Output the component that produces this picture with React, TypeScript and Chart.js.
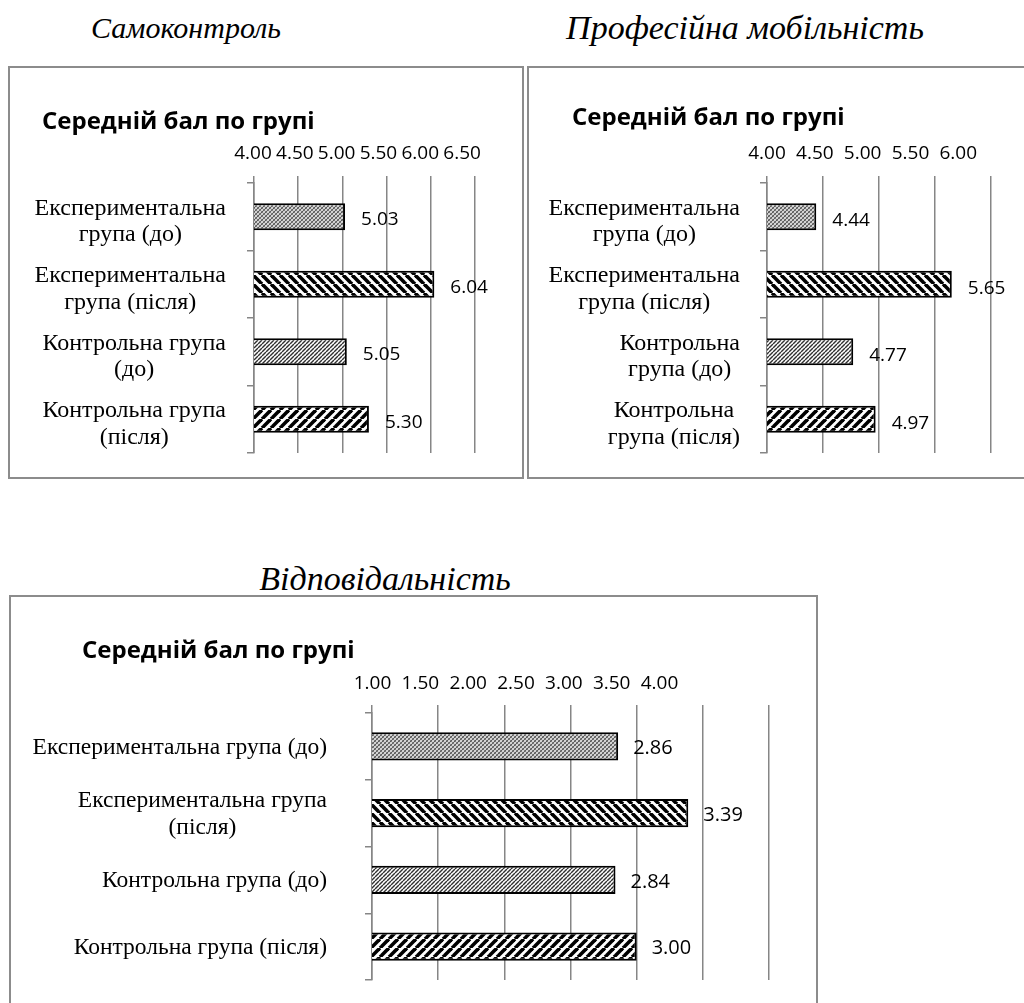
import React, { useEffect, useRef } from 'react';
import { Chart, registerables } from 'chart.js';

Chart.register(...registerables);

// ---------------- data ----------------
const chartTitle = 'Середній бал по групі';
const groupCategories = [
  'Експериментальна група (до)',
  'Експериментальна група (після)',
  'Контрольна група (до)',
  'Контрольна група (після)',
];

const selfControlHeading = 'Самоконтроль';
const selfControlLabels = [
  ['Експериментальна', 'група (до)'],
  ['Експериментальна', 'група (після)'],
  ['Контрольна група', '(до)'],
  ['Контрольна група', '(після)'],
];
const selfControlValues = [5.03, 6.04, 5.05, 5.3];
const selfControlTicks = [4.0, 4.5, 5.0, 5.5, 6.0, 6.5];

const mobilityHeading = 'Професійна мобільність';
const mobilityLabels = [
  ['Експериментальна', 'група (до)'],
  ['Експериментальна', 'група (після)'],
  ['Контрольна', 'група (до)'],
  ['Контрольна', 'група (після)'],
];
const mobilityValues = [4.44, 5.65, 4.77, 4.97];
const mobilityTicks = [4.0, 4.5, 5.0, 5.5, 6.0];

const responsibilityHeading = 'Відповідальність';
const responsibilityLabels = [
  ['Експериментальна група (до)'],
  ['Експериментальна група', '(після)'],
  ['Контрольна група (до)'],
  ['Контрольна група (після)'],
];
const responsibilityValues = [2.86, 3.39, 2.84, 3.0];
const responsibilityTicks = [1.0, 1.5, 2.0, 2.5, 3.0, 3.5, 4.0];

// ---------------- layout (page coordinates) ----------------
type PanelLayout = {
  box: { left: number; top: number; width: number; height: number };
  canvas: { left: number; top: number; width: number; height: number };
  heading: { centerX: number; top: number; size: number };
  titleLeft: number;
  titleCenterY: number;
  titleSize: number;
  plotLeft: number;
  plotRight: number;
  plotTop: number;
  plotBottom: number;
  gridTick: number;
  tickCenterY: number;
  tickSize: number;
  labelRatio: number;
  labelOffset: number;
  catSize: number;
  catLineHeight: number;
  catGap: number;
  catDy: number;
  barPct: number;
  valueGap: number;
  valueSize: number;
  valueDy: number;
};

const selfControlLayout: PanelLayout = {
  box: { left: 8, top: 66, width: 516, height: 413 },
  canvas: { left: 10, top: 68, width: 512, height: 409 },
  heading: { centerX: 186, top: 13, size: 30 },
  titleLeft: 42,
  titleCenterY: 122.5,
  titleSize: 24,
  plotLeft: 254,
  plotRight: 475,
  plotTop: 183,
  plotBottom: 453,
  gridTick: 7,
  tickCenterY: 154,
  tickSize: 19,
  labelRatio: 0.946,
  labelOffset: -1,
  catSize: 24,
  catLineHeight: 1.12,
  catGap: 28,
  catDy: 5,
  barPct: 0.4,
  valueGap: 16,
  valueSize: 19,
  valueDy: 3,
};

const mobilityLayout: PanelLayout = {
  box: { left: 527, top: 66, width: 520, height: 413 },
  canvas: { left: 529, top: 68, width: 495, height: 409 },
  heading: { centerX: 745, top: 11, size: 34 },
  titleLeft: 572,
  titleCenterY: 118.5,
  titleSize: 24,
  plotLeft: 767,
  plotRight: 991,
  plotTop: 183,
  plotBottom: 453,
  gridTick: 7,
  tickCenterY: 154,
  tickSize: 19,
  labelRatio: 0.854,
  labelOffset: 0,
  catSize: 24,
  catLineHeight: 1.12,
  catGap: 27,
  catDy: 5,
  barPct: 0.4,
  valueGap: 16,
  valueSize: 19,
  valueDy: 4,
};

const responsibilityLayout: PanelLayout = {
  box: { left: 9, top: 595, width: 809, height: 430 },
  canvas: { left: 11, top: 597, width: 805, height: 406 },
  heading: { centerX: 385, top: 562, size: 34 },
  titleLeft: 82,
  titleCenterY: 651.5,
  titleSize: 24,
  plotLeft: 372,
  plotRight: 769,
  plotTop: 713,
  plotBottom: 980,
  gridTick: 8,
  tickCenterY: 684,
  tickSize: 19,
  labelRatio: 0.723,
  labelOffset: 0.5,
  catSize: 23.5,
  catLineHeight: 1.15,
  catGap: 45,
  catDy: 1,
  barPct: 0.42,
  valueGap: 15,
  valueSize: 20,
  valueDy: 2,
};

const GRID_COLOR = '#868686';

// ---------------- patterns ----------------
function makePattern(kind: number): CanvasPattern | string {
  const c = document.createElement('canvas');
  const s = kind === 1 || kind === 3 ? 9 : 4;
  c.width = s;
  c.height = s;
  const g = c.getContext('2d');
  if (!g) return '#999';
  g.fillStyle = '#ffffff';
  g.fillRect(0, 0, s, s);
  const diag = (up: boolean) => {
    for (let k = -1; k <= 1; k++) {
      g.beginPath();
      if (up) {
        g.moveTo(k * s, s);
        g.lineTo(k * s + s, 0);
      } else {
        g.moveTo(k * s, 0);
        g.lineTo(k * s + s, s);
      }
      g.stroke();
    }
  };
  if (kind === 0) {
    g.strokeStyle = '#4c4c4c';
    g.lineWidth = 1.1;
    diag(true);
    g.strokeStyle = '#7a7a7a';
    diag(false);
  } else if (kind === 1) {
    g.strokeStyle = '#000';
    g.lineWidth = 3.6;
    diag(false);
  } else if (kind === 2) {
    g.strokeStyle = '#303030';
    g.lineWidth = 1.4;
    diag(true);
  } else {
    g.strokeStyle = '#000';
    g.lineWidth = 3.6;
    diag(true);
  }
  const p = g.createPattern(c, 'repeat');
  return p || '#999';
}

// ---------------- plugins ----------------
const valueLabelPlugin = {
  id: 'valueLabels',
  afterDatasetsDraw(chart: any, _args: any, opts: any) {
    const { ctx } = chart;
    const meta = chart.getDatasetMeta(0);
    const data = chart.data.datasets[0].data as number[];
    ctx.save();
    ctx.font = `${opts.size}px "Open Sans"`;
    ctx.fillStyle = '#000';
    ctx.textAlign = 'left';
    ctx.textBaseline = 'middle';
    meta.data.forEach((el: any, i: number) => {
      ctx.fillText(Number(data[i]).toFixed(2), el.x + opts.gap, el.y + opts.dy);
    });
    ctx.restore();
  },
};

// each category label lives on its own zero-width category axis; after layout the
// axis is widened to the left of the plot so its label block can be right-aligned
const labelAxesPlugin = {
  id: 'labelAxes',
  afterLayout(chart: any, _args: any, opts: any) {
    const area = chart.chartArea;
    Object.keys(chart.scales).forEach((id) => {
      if (id.startsWith('yl')) {
        const s = chart.scales[id];
        s.left = 0;
        s.right = area.left - opts.gap;
        s.width = s.right - s.left;
        s.top = area.top + opts.dy;
        s.bottom = area.bottom + opts.dy;
        s.configure();
      }
    });
  },
};

function buildConfig(labels: string[][], values: number[], ticks: number[], L: PanelLayout): any {
  const cx = L.canvas.left;
  const cy = L.canvas.top;
  const gridMin = ticks[0];
  const gridMax = ticks[ticks.length - 1];
  const plotW = L.plotRight - L.plotLeft;
  const gridPx = plotW / (gridMax - gridMin);
  const labelMin = gridMin - L.labelOffset / (gridPx * L.labelRatio);
  const labelMax = labelMin + (gridMax - gridMin) / L.labelRatio;
  const titleLH = L.titleSize * 1.2;
  const titlePadTop = L.titleCenterY - cy - titleLH / 2;
  const titleBottom = titlePadTop + titleLH;
  const gridAxisTop = L.plotTop - L.gridTick - cy;
  const labelAxisHeight = gridAxisTop - titleBottom;
  const tickLH = L.tickSize * 1.2;
  const tickPad = L.plotTop - L.gridTick - L.tickCenterY - tickLH / 2;
  const setTicks = (scale: any) => {
    scale.ticks = ticks.map((v) => ({ value: v }));
  };

  const scales: any = {
    x: {
      type: 'linear',
      position: 'top',
      weight: 0,
      min: gridMin,
      max: gridMax,
      bounds: 'data',
      afterBuildTicks: setTicks,
      afterFit: (s: any) => {
        s.height = L.gridTick;
        s.paddingLeft = 0;
        s.paddingRight = 0;
      },
      ticks: { display: false },
      grid: {
        color: GRID_COLOR,
        lineWidth: 1.5,
        drawTicks: true,
        tickLength: L.gridTick,
        drawOnChartArea: true,
      },
      border: { display: false },
    },
    xl: {
      type: 'linear',
      position: 'top',
      weight: 1,
      min: labelMin,
      max: labelMax,
      bounds: 'data',
      afterBuildTicks: setTicks,
      afterFit: (s: any) => {
        s.height = labelAxisHeight;
        s.paddingLeft = 0;
        s.paddingRight = 0;
      },
      ticks: {
        font: { family: '"Open Sans"', size: L.tickSize, lineHeight: 1.2 },
        color: '#000',
        padding: tickPad,
        autoSkip: false,
        maxRotation: 0,
        minRotation: 0,
        callback: (v: any) => Number(v).toFixed(2),
      },
      grid: { display: false, drawTicks: false },
      border: { display: false },
    },
    y: {
      type: 'category',
      position: 'left',
      weight: 10,
      offset: true,
      afterFit: (s: any) => {
        s.width = L.plotLeft - L.titleLeft;
      },
      ticks: { display: false },
      grid: {
        offset: true,
        drawOnChartArea: false,
        drawTicks: true,
        tickLength: 7,
        color: GRID_COLOR,
        lineWidth: 1.5,
      },
      border: { display: true, color: GRID_COLOR, width: 1.5 },
    },
  };

  labels.forEach((_lab, i) => {
    scales['yl' + i] = {
      type: 'category',
      position: 'left',
      weight: 0,
      offset: true,
      afterFit: (s: any) => {
        s.width = 0;
        s.paddingTop = 0;
        s.paddingBottom = 0;
      },
      ticks: {
        font: { family: '"Liberation Serif"', size: L.catSize, lineHeight: L.catLineHeight },
        color: '#000',
        padding: 0,
        crossAlign: 'center',
        autoSkip: false,
        callback: (_v: any, idx: number) => (idx === i ? labels[idx] : ''),
      },
      grid: { display: false, drawTicks: false },
      border: { display: false },
    };
  });

  return {
    type: 'bar',
    data: {
      labels: groupCategories,
      datasets: [
        {
          data: values,
          backgroundColor: values.map((_v, i) => makePattern(i)),
          borderColor: '#000',
          borderWidth: 2,
          borderSkipped: false,
          barPercentage: L.barPct,
          categoryPercentage: 1,
        },
      ],
    },
    options: {
      animation: false,
      responsive: false,
      indexAxis: 'y',
      layout: {
        padding: {
          left: L.titleLeft - cx,
          right: cx + L.canvas.width - L.plotRight,
          top: 0,
          bottom: cy + L.canvas.height - L.plotBottom,
        },
      },
      plugins: {
        legend: { display: false },
        tooltip: { enabled: false },
        title: {
          display: true,
          text: chartTitle,
          align: 'start',
          color: '#000',
          font: { family: '"Open Sans"', weight: 'bold', size: L.titleSize, lineHeight: 1.2 },
          padding: { top: titlePadTop, bottom: 0 },
        },
        valueLabels: { size: L.valueSize, gap: L.valueGap, dy: L.valueDy },
        labelAxes: { gap: L.catGap, dy: L.catDy },
      },
      scales,
    },
    plugins: [valueLabelPlugin, labelAxesPlugin],
  };
}

function Panel(props: {
  heading: string;
  labels: string[][];
  values: number[];
  ticks: number[];
  layout: PanelLayout;
}) {
  const { heading, labels, values, ticks, layout: L } = props;
  const ref = useRef<HTMLCanvasElement | null>(null);

  useEffect(() => {
    let chart: Chart | null = null;
    let cancelled = false;
    const fonts: any = (document as any).fonts;
    const ready = fonts
      ? Promise.all([
          fonts.load(`bold ${L.titleSize}px "Open Sans"`),
          fonts.load(`${L.tickSize}px "Open Sans"`),
          fonts.load(`${L.catSize}px "Liberation Serif"`),
        ]).catch(() => null)
      : Promise.resolve(null);
    ready.then(() => {
      if (cancelled || !ref.current) return;
      chart = new Chart(ref.current, buildConfig(labels, values, ticks, L));
    });
    return () => {
      cancelled = true;
      if (chart) chart.destroy();
    };
  }, []);

  return (
    <>
      <div
        style={{
          position: 'absolute',
          left: L.heading.centerX - 250,
          width: 500,
          top: L.heading.top,
          textAlign: 'center',
          fontFamily: '"Liberation Serif", "Times New Roman", serif',
          fontStyle: 'italic',
          fontSize: L.heading.size,
          lineHeight: `${L.heading.size}px`,
          color: '#000',
          whiteSpace: 'nowrap',
        }}
      >
        {heading}
      </div>
      <div
        style={{
          position: 'absolute',
          left: L.box.left,
          top: L.box.top,
          width: L.box.width,
          height: L.box.height,
          border: '2px solid #8c8c8c',
          boxSizing: 'border-box',
        }}
      />
      <canvas
        ref={ref}
        width={L.canvas.width}
        height={L.canvas.height}
        style={{
          position: 'absolute',
          left: L.canvas.left,
          top: L.canvas.top,
          width: L.canvas.width,
          height: L.canvas.height,
        }}
      />
    </>
  );
}

export default function App() {
  return (
    <div
      style={{
        position: 'fixed',
        left: 0,
        top: 0,
        width: 1024,
        height: 1003,
        overflow: 'hidden',
        background: '#fff',
      }}
    >
      <Panel
        heading={selfControlHeading}
        labels={selfControlLabels}
        values={selfControlValues}
        ticks={selfControlTicks}
        layout={selfControlLayout}
      />
      <Panel
        heading={mobilityHeading}
        labels={mobilityLabels}
        values={mobilityValues}
        ticks={mobilityTicks}
        layout={mobilityLayout}
      />
      <Panel
        heading={responsibilityHeading}
        labels={responsibilityLabels}
        values={responsibilityValues}
        ticks={responsibilityTicks}
        layout={responsibilityLayout}
      />
    </div>
  );
}
